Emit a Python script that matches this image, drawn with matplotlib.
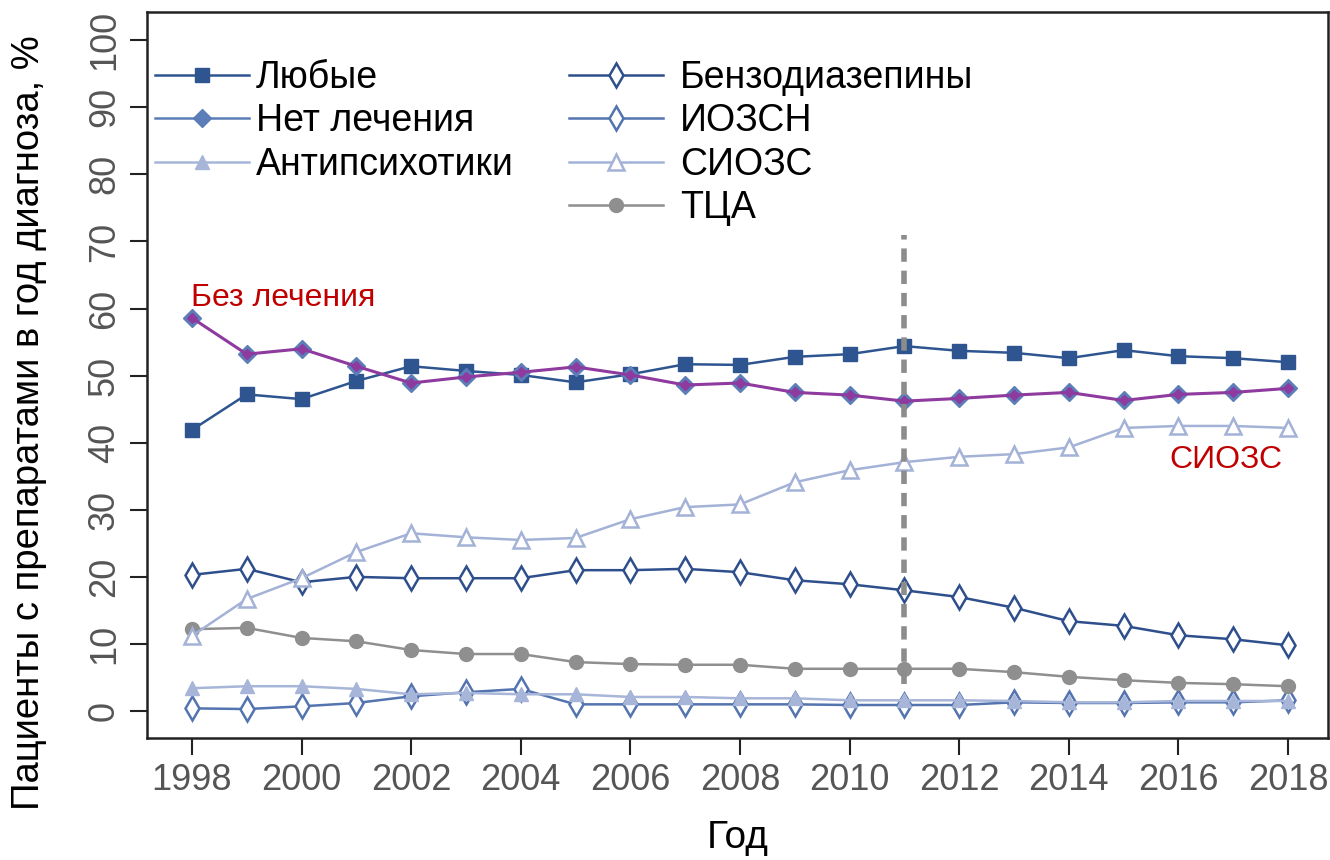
import matplotlib
matplotlib.use('Agg')
import matplotlib.pyplot as plt
from matplotlib.lines import Line2D

plt.rcParams['font.family'] = ['Liberation Sans', 'DejaVu Sans']

years = list(range(1998, 2019))

any_drug = [41.9, 47.2, 46.5, 49.2, 51.4, 50.7, 50.1, 49.0, 50.2, 51.7, 51.6,
            52.8, 53.2, 54.4, 53.7, 53.4, 52.6, 53.8, 52.9, 52.6, 52.0]
no_treatment = [58.6, 53.2, 54.0, 51.4, 48.9, 49.8, 50.5, 51.3, 50.1, 48.6, 48.9,
                47.5, 47.1, 46.2, 46.6, 47.1, 47.5, 46.3, 47.2, 47.5, 48.1]
antipsychotics = [3.4, 3.7, 3.7, 3.3, 2.5, 2.7, 2.5, 2.5, 2.1, 2.1, 1.9,
                  1.9, 1.6, 1.6, 1.6, 1.5, 1.3, 1.3, 1.5, 1.5, 1.5]
benzodiazepines = [20.3, 21.2, 19.2, 20.0, 19.8, 19.8, 19.8, 21.0, 21.0, 21.2, 20.7,
                   19.5, 18.9, 18.0, 17.0, 15.4, 13.4, 12.7, 11.3, 10.7, 9.8]
snri = [0.4, 0.3, 0.7, 1.2, 2.2, 2.8, 3.3, 1.0, 1.0, 1.0, 1.0,
        1.0, 0.9, 0.9, 0.9, 1.3, 1.2, 1.2, 1.3, 1.3, 1.6]
ssri = [11.2, 16.7, 19.8, 23.7, 26.5, 25.9, 25.5, 25.8, 28.6, 30.4, 30.8,
        34.1, 35.9, 37.1, 37.9, 38.3, 39.3, 42.2, 42.5, 42.5, 42.2]
tca = [12.2, 12.4, 10.9, 10.4, 9.1, 8.5, 8.5, 7.3, 7.0, 6.9, 6.9,
       6.3, 6.3, 6.3, 6.3, 5.8, 5.1, 4.6, 4.2, 4.0, 3.7]

c_any = '#2e5590'
c_none = '#5b7db8'
c_none_line = '#8e3a9e'
c_anti = '#a6b5d8'
c_benzo = '#2e4f8c'
c_snri = '#5474b0'
c_ssri = '#a3b2d6'
c_tca = '#8f8f8f'
red = '#c00000'

fig = plt.figure(figsize=(13.3, 8.6), dpi=100)
ax = fig.add_axes([0.1105, 0.142, 0.888, 0.844])

lw = 1.8
ax.plot(years, snri, color=c_snri, lw=lw, marker='d', ms=12, mfc='white', mec=c_snri, mew=1.8)
ax.plot(years, antipsychotics, color=c_anti, lw=lw, marker='^', ms=10, mfc=c_anti, mec=c_anti)
ax.plot(years, tca, color=c_tca, lw=lw, marker='o', ms=10, mfc=c_tca, mec=c_tca)
ax.plot(years, benzodiazepines, color=c_benzo, lw=lw, marker='d', ms=12, mfc='white', mec=c_benzo, mew=1.8)
ax.plot(years, ssri, color=c_ssri, lw=lw, marker='^', ms=12, mfc='white', mec=c_ssri, mew=1.8)
ax.plot(years, any_drug, color=c_any, lw=lw, marker='s', ms=10, mfc=c_any, mec=c_any)
ax.plot(years, no_treatment, color=c_none, lw=0, marker='D', ms=9, mfc=c_none, mec=c_none)
ax.plot(years, no_treatment, color=c_none_line, lw=2.2, marker='D', ms=5, mfc=c_none_line, mec=c_none_line)

# reference year marker
ax.plot([2011, 2011], [4, 71], color='#8c8c8c', lw=4, ls=(0, (2.4, 1.6)))

ax.text(1997.98, 59.3, 'Без лечения', color=red, fontsize=23, ha='left', va='bottom')
ax.text(2017.9, 35.2, 'СИОЗС', color=red, fontsize=23, ha='right', va='bottom')

ax.set_xlim(1997.18, 2018.73)
ax.set_ylim(-4, 104.2)
ax.set_xticks(range(1998, 2019, 2))
ax.set_yticks(range(0, 101, 10))
ax.tick_params(axis='both', direction='out', length=12, width=1.5, color='#222222',
               labelsize=26, labelcolor='#555555', pad=6)
ax.tick_params(axis='y', labelrotation=90)
for lab in ax.get_yticklabels():
    lab.set_va('center')
for sp in ax.spines.values():
    sp.set_linewidth(1.8)
    sp.set_color('#222222')

ax.set_xlabel('Год', fontsize=28, labelpad=16)
ax.set_ylabel('Пациенты с препаратами в год диагноза, %', fontsize=27.5)
ax.yaxis.set_label_coords(-0.085, 0.435)

leg_kw = dict(frameon=False, fontsize=27, handlelength=2.5,
              labelspacing=0.2, borderaxespad=0)
h1 = [Line2D([], [], color=c_any, lw=lw, marker='s', ms=10),
      Line2D([], [], color=c_none, lw=lw, marker='D', ms=9),
      Line2D([], [], color=c_anti, lw=lw, marker='^', ms=10)]
leg1 = ax.legend(h1, ['Любые', 'Нет лечения', 'Антипсихотики'], handletextpad=0.2,
                 loc='upper left', bbox_to_anchor=(-0.006, 0.955), **leg_kw)
ax.add_artist(leg1)
h2 = [Line2D([], [], color=c_benzo, lw=lw, marker='d', ms=12, mfc='white', mew=1.8),
      Line2D([], [], color=c_snri, lw=lw, marker='d', ms=12, mfc='white', mew=1.8),
      Line2D([], [], color=c_ssri, lw=lw, marker='^', ms=12, mfc='white', mew=1.8),
      Line2D([], [], color=c_tca, lw=lw, marker='o', ms=10)]
ax.legend(h2, ['Бензодиазепины', 'ИОЗСН', 'СИОЗС', 'ТЦА'], handletextpad=0.45,
          loc='upper left', bbox_to_anchor=(0.345, 0.955), **leg_kw)

fig.savefig('out.png', dpi=100)
